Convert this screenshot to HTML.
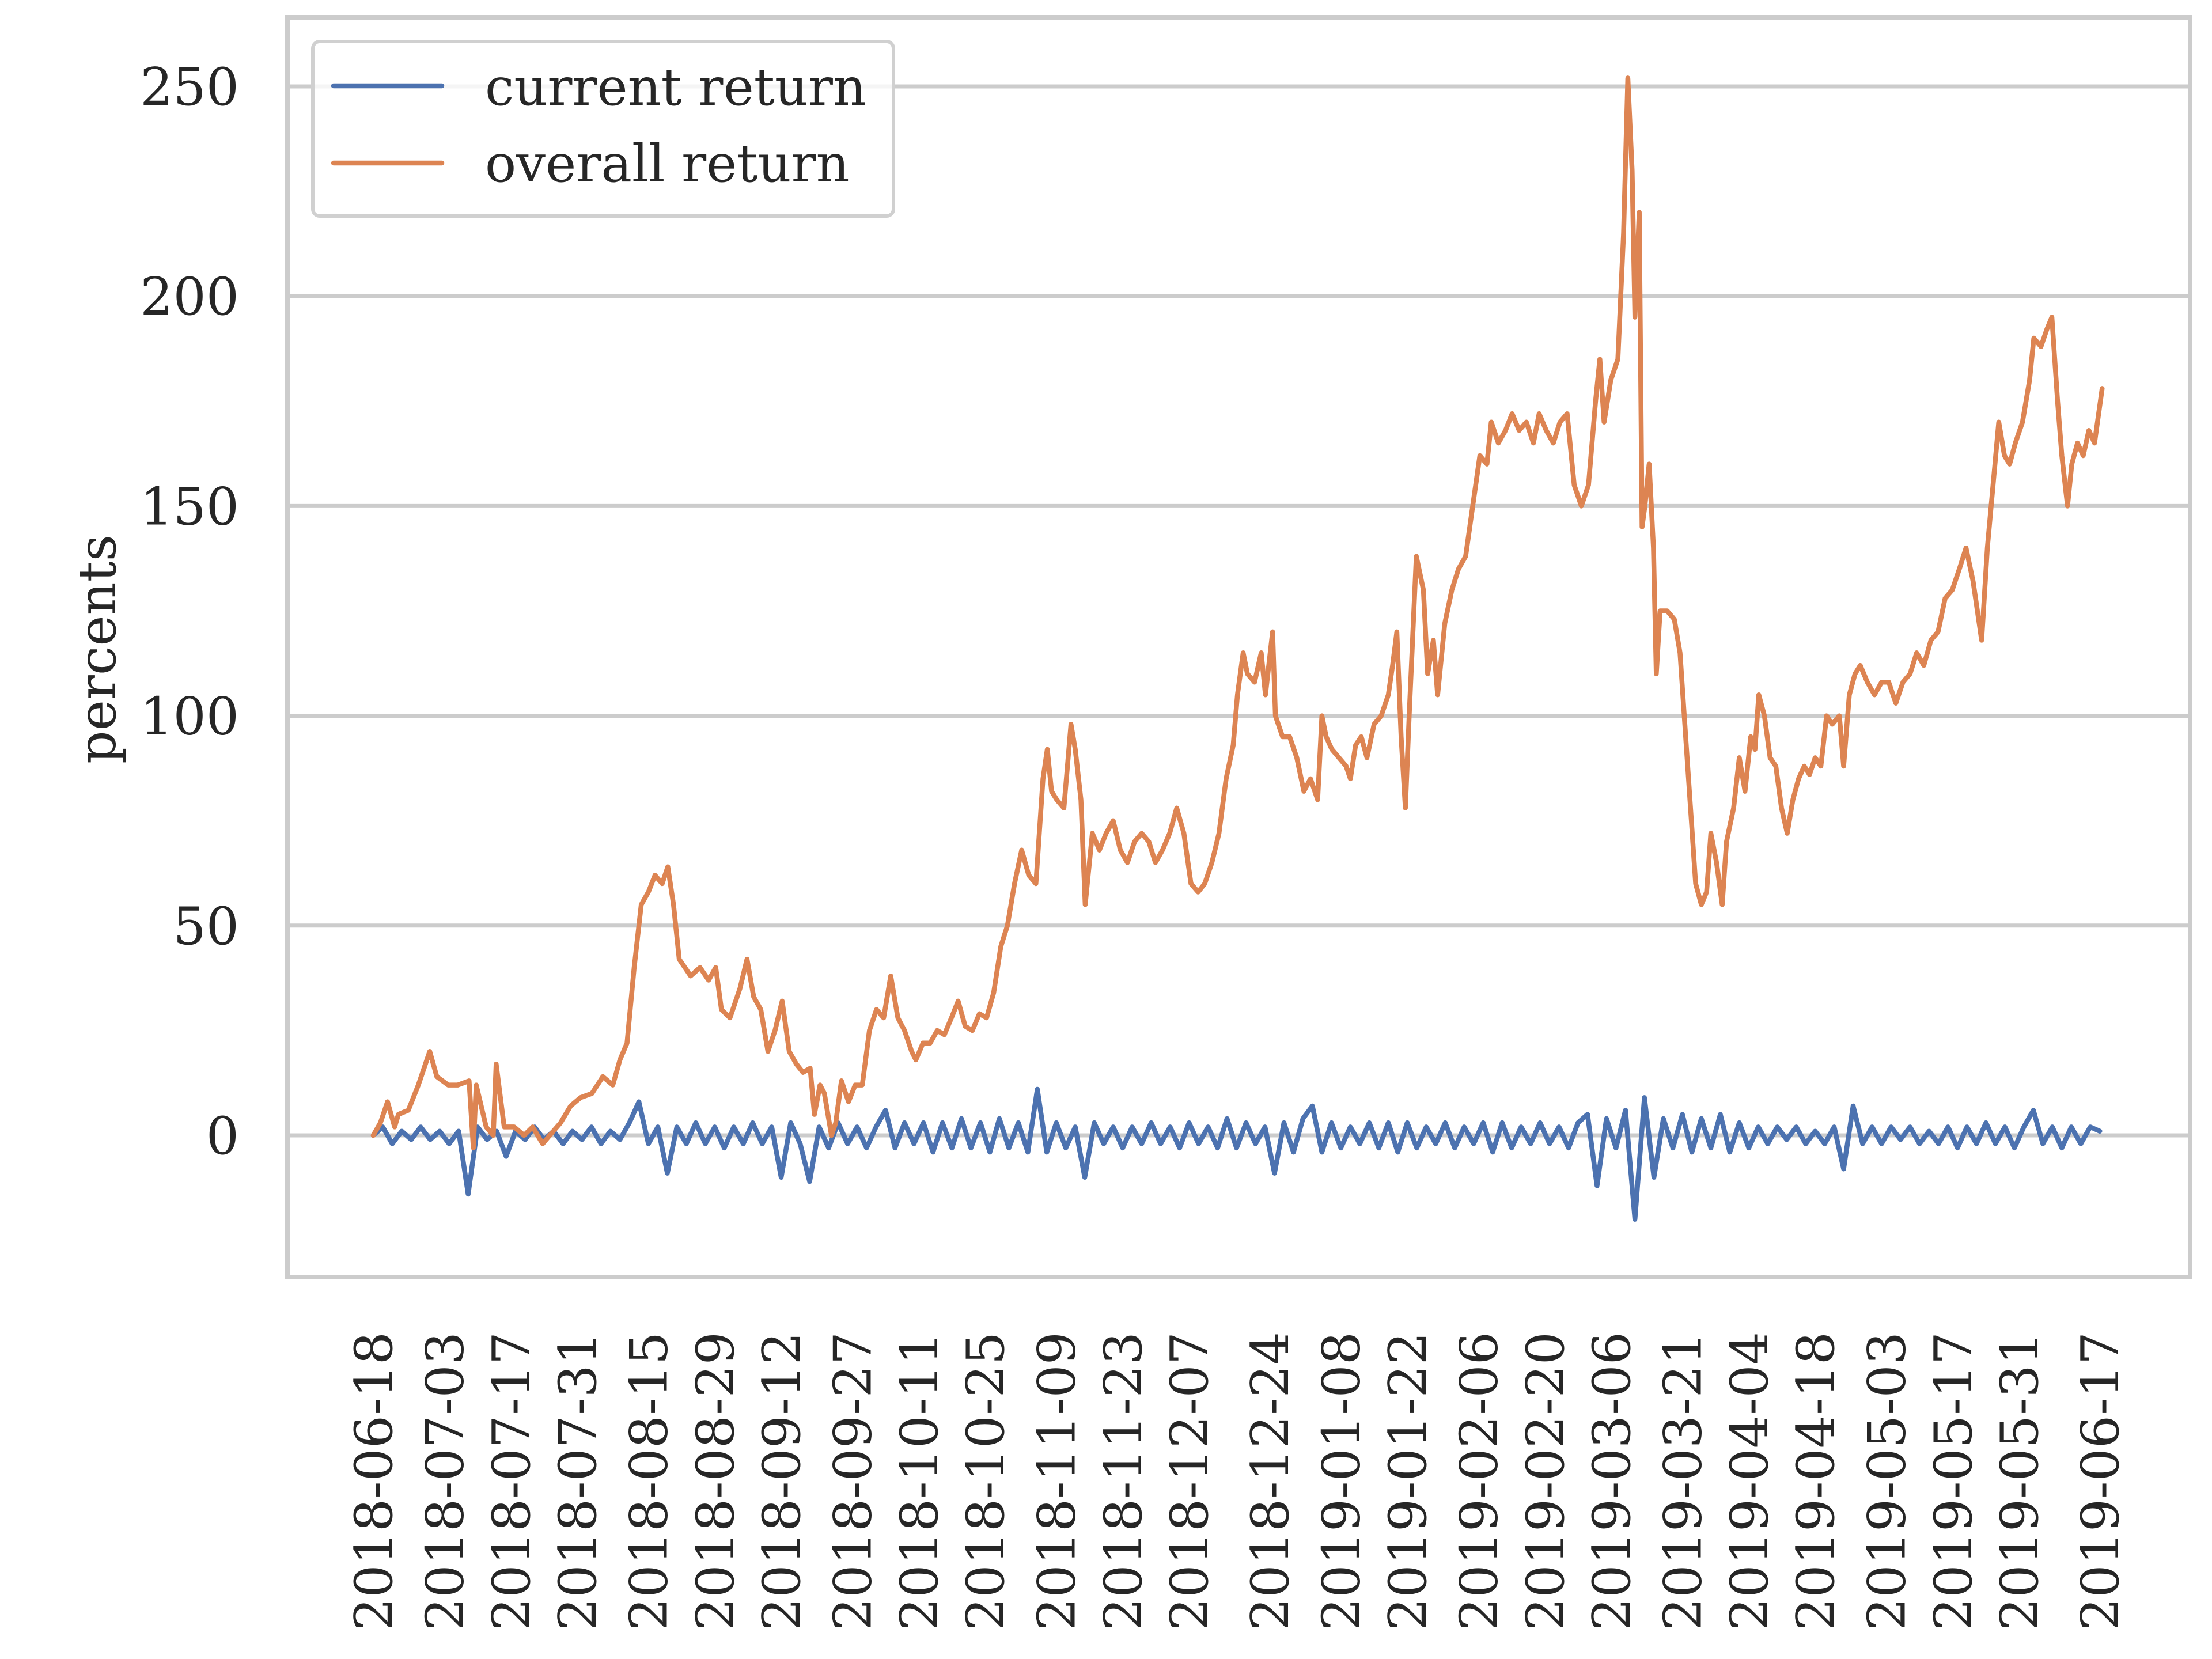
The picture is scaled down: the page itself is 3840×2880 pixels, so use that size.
<!DOCTYPE html>
<html><head><meta charset="utf-8"><style>
html,body{margin:0;padding:0;background:#fff;}
svg{display:block;font-family:"DejaVu Serif","Liberation Serif",serif;}
</style></head><body>
<svg id="chart" width="3840" height="2880" viewBox="0 0 3840 2880" xmlns="http://www.w3.org/2000/svg">
<rect x="0" y="0" width="3840" height="2880" fill="#fff"/>
<g id="grid"></g>
<g id="series"></g>
<rect x="499" y="30" width="3303" height="2187" fill="none" stroke="#cccccc" stroke-width="8"/>
<g id="yticks"></g>
<g id="xticks"></g>
<text x="0" y="0" transform="translate(200,1127) rotate(-90)" text-anchor="middle" font-size="90" fill="#262626">percents</text>
<g>
<rect x="543" y="72" width="1008" height="303" rx="12" fill="#fff" fill-opacity="0.8" stroke="#d0d0d0" stroke-width="6"/>
<line x1="579" y1="149" x2="767" y2="149" stroke="#4c72b0" stroke-width="8.5" stroke-linecap="round"/>
<text x="842" y="182" font-size="90" fill="#262626">current return</text>
<line x1="579" y1="283" x2="767" y2="283" stroke="#dd8452" stroke-width="8.5" stroke-linecap="round"/>
<text x="842" y="315" font-size="90" fill="#262626">overall return</text>
</g>
</svg>
<script>
const yTicks = [0, 50, 100, 150, 200, 250];
const xTickLabels = ["2018-06-18","2018-07-03","2018-07-17","2018-07-31","2018-08-15","2018-08-29","2018-09-12","2018-09-27","2018-10-11","2018-10-25","2018-11-09","2018-11-23","2018-12-07","2018-12-24","2019-01-08","2019-01-22","2019-02-06","2019-02-20","2019-03-06","2019-03-21","2019-04-04","2019-04-18","2019-05-03","2019-05-17","2019-05-31","2019-06-17"];
const startDate = "2018-06-18";
const overallDays = [0,1.5,3.0,4.5,5.3,7.4,9.5,11.9,13.4,15.8,17.8,20.2,21.1,21.7,23.8,25.3,25.9,26.7,27.6,29.7,31.8,33.6,35.7,37.2,39.5,41.6,43.7,46.1,48.4,50.5,52.0,53.5,55.0,56.5,58.0,59.4,60.9,62.1,63.3,64.5,66.9,68.9,70.7,72.2,73.4,75.2,77.3,78.8,80.2,81.7,83.2,84.7,86.2,87.7,89.2,90.6,92.1,93.0,94.2,95.1,96.6,97.5,98.7,100.2,101.6,103.1,104.6,106.1,107.6,109.1,110.6,112.0,113.5,114.4,115.9,117.4,118.9,120.4,121.9,123.3,124.8,126.3,127.8,129.3,130.8,132.3,133.7,135.2,136.7,138.2,139.7,141.2,142.1,143.0,144.1,145.6,147.1,148.0,149.2,150.1,151.6,153.1,154.5,156.0,157.5,159.0,160.5,162.0,163.5,164.9,166.4,167.9,169.4,170.9,172.4,173.9,175.3,176.8,178.3,179.8,181.3,182.2,183.4,184.3,185.8,187.2,188.1,189.6,190.2,191.7,193.2,194.7,196.2,197.6,199.1,200.0,200.9,202.1,203.6,205.1,206.0,207.1,208.3,209.5,211.0,212.5,214.0,214.9,215.8,216.7,217.6,218.4,219.9,221.4,222.3,223.5,224.4,225.9,227.4,228.8,230.3,231.8,233.3,234.8,235.7,237.2,238.7,240.1,241.6,243.1,244.6,245.8,247.3,248.8,250.2,251.7,253.2,254.7,256.2,257.7,258.6,259.5,260.9,262.4,263.6,264.5,265.4,266.0,266.9,267.5,268.1,269.0,269.9,270.5,271.3,272.8,274.3,275.5,276.7,277.9,278.8,280.0,281.1,282.0,283.2,284.4,285.3,286.8,288.0,289.2,290.4,291.3,292.1,293.3,294.5,295.7,296.9,298.1,299.3,300.5,301.7,302.8,304.0,305.2,306.4,307.6,309.1,310.0,311.2,312.4,313.5,315.0,316.5,318.0,319.5,321.0,322.5,324.0,325.4,326.9,328.4,329.9,331.4,332.9,334.4,335.8,337.3,338.2,339.1,340.3,341.5,342.7,343.9,345.0,346.2,347.7,349.2,350.1,351.6,352.8,353.9,355.1,356.0,357.2,358.1,359.3,360.5,361.7,362.9,364.5];
const overallValues = [0,3,8,2,5,6,12,20,14,12,12,13,-3,12,2,0,17,10,2,2,0,2,-2,0,3,7,9,10,14,12,18,22,40,55,58,62,60,64,55,42,38,40,37,40,30,28,35,42,33,30,20,25,32,20,17,15,16,5,12,10,0,3,13,8,12,12,25,30,28,38,28,25,20,18,22,22,25,24,28,32,26,25,29,28,34,45,50,60,68,62,60,85,92,82,80,78,98,92,80,55,72,68,72,75,68,65,70,72,70,65,68,72,78,72,60,58,60,65,72,85,93,105,115,110,108,115,105,120,100,95,95,90,82,85,80,100,95,92,90,88,85,93,95,90,98,100,105,112,120,95,78,100,138,130,110,118,105,122,130,135,138,150,162,160,170,165,168,172,168,170,165,172,168,165,170,172,155,150,155,175,185,170,180,185,215,252,230,195,220,145,150,160,140,110,125,125,123,115,95,75,60,55,58,72,65,55,70,78,90,82,95,92,105,100,90,88,78,72,80,85,88,86,90,88,100,98,100,88,105,110,112,108,105,108,108,103,108,110,115,112,118,120,128,130,135,140,132,125,118,140,155,170,162,160,165,170,180,190,188,192,195,175,162,150,160,165,162,168,165,178];
const currentStepDays = 2;
const currentValues = [0,2,-2,1,-1,2,-1,1,-2,1,-14,2,-1,1,-5,1,-1,2,-1,1,-2,1,-1,2,-2,1,-1,3,8,-2,2,-9,2,-2,3,-2,2,-3,2,-2,3,-2,2,-10,3,-2,-11,2,-3,3,-2,2,-3,2,6,-3,3,-2,3,-4,3,-3,4,-3,3,-4,4,-3,3,-4,11,-4,3,-3,2,-10,3,-2,2,-3,2,-2,3,-2,2,-3,3,-2,2,-3,4,-3,3,-2,2,-9,3,-4,4,7,-4,3,-3,2,-2,3,-3,3,-4,3,-3,2,-2,3,-3,2,-2,3,-4,3,-3,2,-2,3,-2,2,-3,3,5,-12,4,-3,6,-20,9,-10,4,-3,5,-4,4,-3,5,-4,3,-3,2,-2,2,-1,2,-2,1,-2,2,-8,7,-2,2,-2,2,-1,2,-2,1,-2,2,-3,2,-2,3,-2,2,-3,2,6,-2,2,-3,2,-2,2,1];

const NS = "http://www.w3.org/2000/svg";
const X0 = 648, PX_PER_DAY = 8.234;
const Y0 = 1971, PX_PER_UNIT = 7.284;
function xScale(day){ return X0 + day * PX_PER_DAY; }
function yScale(v){ return Y0 - v * PX_PER_UNIT; }
function dayOf(s){ return (Date.parse(s + "T00:00:00Z") - Date.parse(startDate + "T00:00:00Z")) / 86400000; }

const grid = document.getElementById("grid");
const yt = document.getElementById("yticks");
yTicks.forEach(v => {
  const l = document.createElementNS(NS, "line");
  
  
  l.setAttribute("x1", 499); l.setAttribute("x2", 3802);
  l.setAttribute("y1", yScale(v)); l.setAttribute("y2", yScale(v));
  l.setAttribute("stroke", "#cccccc"); l.setAttribute("stroke-width", "7");
  grid.appendChild(l);
  const t = document.createElementNS(NS, "text");
  
  
  t.setAttribute("x", 415); t.setAttribute("y", yScale(v) + 32);
  t.setAttribute("text-anchor", "end"); t.setAttribute("font-size", "90"); t.setAttribute("fill", "#262626");
  t.textContent = v;
  yt.appendChild(t);
});

const xt = document.getElementById("xticks");
xTickLabels.forEach(s => {
  const x = xScale(dayOf(s));
  const t = document.createElementNS(NS, "text");
  
  
  t.setAttribute("x", 0); t.setAttribute("y", 0);
  t.setAttribute("transform", "translate(" + (x + 32) + ",2312) rotate(-90)");
  t.setAttribute("text-anchor", "end"); t.setAttribute("font-size", "90"); t.setAttribute("fill", "#262626");
  t.textContent = s;
  xt.appendChild(t);
});

const series = document.getElementById("series");
function addLine(pts, color, name){
  const p = document.createElementNS(NS, "polyline");
  
  
  p.setAttribute("points", pts.map(q => q[0].toFixed(1) + "," + q[1].toFixed(1)).join(" "));
  p.setAttribute("fill", "none"); p.setAttribute("stroke", color);
  p.setAttribute("stroke-width", "8.5"); p.setAttribute("stroke-linejoin", "round"); p.setAttribute("stroke-linecap", "round");
  series.appendChild(p);
}
addLine(currentValues.map((v, i) => [xScale(i * currentStepDays), yScale(v)]), "#4c72b0", "current-return-line");
addLine(overallValues.map((v, i) => [xScale(overallDays[i]), yScale(v)]), "#dd8452", "overall-return-line");
</script>
</body></html>
